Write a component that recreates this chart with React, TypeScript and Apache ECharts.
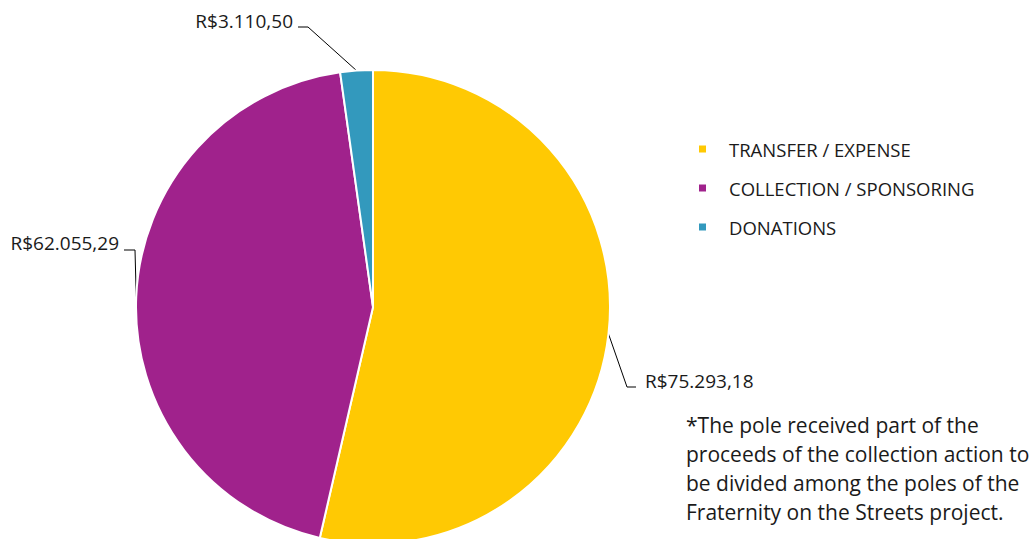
import React, { useEffect, useRef } from "react";
import * as echarts from "echarts";

const categories = ["TRANSFER / EXPENSE", "COLLECTION / SPONSORING", "DONATIONS"];
const values = [75293.18, 62055.29, 3110.5];
const valueLabels = ["R$75.293,18", "R$62.055,29", "R$3.110,50"];
const colors = ["#FFC903", "#A0228C", "#3399BD"];
const noteLines = [
  "*The pole received part of the",
  "proceeds of the collection action to",
  "be divided among the poles of the",
  "Fraternity on the Streets project.",
];

// label layout: [labelX, labelY, align, elbowX, elbowY, endX]
const labelPlaces: [number, number, string, number, number, number][] = [
  [645, 381, "left", 627, 387, 636],
  [119, 243, "right", 135, 250, 124],
  [293, 21, "right", 308, 27, 298],
];

const FONT = "'Open Sans', Lato, sans-serif";

export default function App() {
  const ref = useRef<HTMLDivElement>(null);
  useEffect(() => {
    document.body.style.margin = "0";
    const chart = echarts.init(ref.current!, null, { renderer: "svg" });
    chart.setOption({
      animation: false,
      backgroundColor: "#ffffff",
      legend: {
        orient: "vertical",
        left: 692,
        top: 133,
        icon: "rect",
        itemWidth: 9,
        itemHeight: 9,
        itemGap: 17,
        selectedMode: false,
        data: categories,
        textStyle: {
          fontFamily: FONT,
          fontSize: 18.5,
          color: "#1a1a1a",
          lineHeight: 22,
          padding: [0, 0, 0, 17],
        },
      },
      graphic: [
        {
          type: "text",
          left: 686,
          top: 410,
          style: {
            text: noteLines.join("\n"),
            fontFamily: FONT,
            fontSize: 21,
            lineHeight: 29,
            fill: "#1a1a1a",
          },
        },
      ],
      series: [
        {
          type: "pie",
          center: [373, 307],
          radius: 237,
          startAngle: 90,
          clockwise: true,
          itemStyle: { borderColor: "#ffffff", borderWidth: 2 },
          label: {
            show: true,
            position: "outside",
            overflow: "none",
            fontFamily: FONT,
            fontSize: 19,
            color: "#1a1a1a",
            formatter: (p: any) => valueLabels[p.dataIndex],
          },
          labelLine: {
            show: true,
            length: 20,
            length2: 10,
            lineStyle: { color: "#000000", width: 1 },
          },
          labelLayout: (params: any) => {
            const lp = labelPlaces[params.dataIndex];
            const p0 = params.labelLinePoints ? params.labelLinePoints[0] : [lp[3], lp[4]];
            return {
              x: lp[0],
              y: lp[1],
              align: lp[2],
              verticalAlign: "middle",
              labelLinePoints: [p0, [lp[3], lp[4]], [lp[5], lp[4]]],
            };
          },
          data: categories.map((name, i) => ({
            name,
            value: values[i],
            itemStyle: { color: colors[i] },
          })),
        },
      ],
    });
    return () => chart.dispose();
  }, []);
  return <div ref={ref} style={{ width: 1036, height: 539 }} />;
}
